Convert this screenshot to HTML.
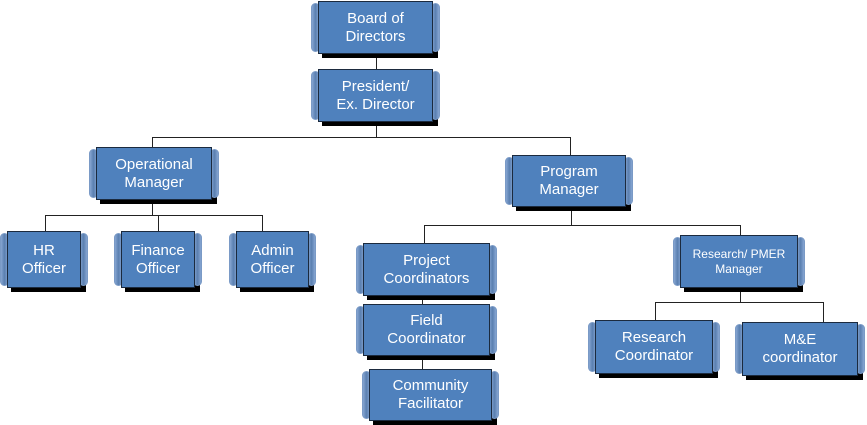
<!DOCTYPE html>
<html><head><style>
body{margin:0;width:867px;height:424px;background:#fff;position:relative;overflow:hidden;font-family:"Liberation Sans",sans-serif}
.b{position:absolute}
.t{position:absolute;top:2px;bottom:2px;width:9px;background:linear-gradient(90deg,#86a6d2,#5a7fb0 50%,#86a6d2);border-radius:5px;border:1px solid #7a9ac6;box-sizing:border-box}
.s{position:absolute;background:#000}
.m{position:absolute;top:0;bottom:0;background:#4f81bd;border:1px solid #1b2a3e;box-sizing:border-box;color:#fff;display:flex;align-items:center;justify-content:center;text-align:center;font-size:15px;line-height:18px}
.l{position:absolute;background:#222}
</style></head><body>
<div id="c"></div>
<script>
const boxes=[
[311,1,129,53,"Board of<br>Directors"],
[311,69,129,53,"President/<br>Ex. Director"],
[89,147,130,53,"Operational<br>Manager"],
[505,155,128,52,"Program<br>Manager"],
[0,231,88,57,"HR<br>Officer"],
[114,231,88,57,"Finance<br>Officer"],
[229,231,87,57,"Admin<br>Officer"],
[356,243,141,53,"Project<br>Coordinators"],
[356,304,141,52,"Field<br>Coordinator"],
[362,369,137,52,"Community<br>Facilitator"],
[673,235,132,53,"<span style='font-size:12px;line-height:15px'>Research/ PMER<br>Manager</span>"],
[588,320,132,54,"Research<br>Coordinator"],
[735,322,130,54,"M&amp;E<br>coordinator"]];
const lines=[
[376,54,1,15],[376,122,1,15],[152,137,419,1],[152,137,1,10],[570,137,1,18],
[152,200,1,15],[45,215,218,1],[45,215,1,16],[158,215,1,16],[262,215,1,16],
[571,207,1,18],[424,225,317,1],[424,225,1,18],[740,225,1,10],
[422,296,1,8],[422,356,1,13],
[740,288,1,14],[655,302,169,1],[655,302,1,18],[823,302,1,20]];
let h="";
for(const l of lines)h+=`<div class="l" style="left:${l[0]}px;top:${l[1]}px;width:${l[2]}px;height:${l[3]}px"></div>`;
for(const [x,y,w,hh,t] of boxes){
h+=`<div class="s" style="left:${x+11}px;top:${y+4}px;width:${w-13}px;height:${hh}px"></div>`;
h+=`<div class="b" style="left:${x}px;top:${y}px;width:${w}px;height:${hh}px">`+
`<div class="t" style="left:0"></div><div class="t" style="right:0"></div>`+
`<div class="m" style="left:7px;right:7px">${t}</div></div>`;}
document.getElementById("c").innerHTML=h;
</script>
</body></html>
